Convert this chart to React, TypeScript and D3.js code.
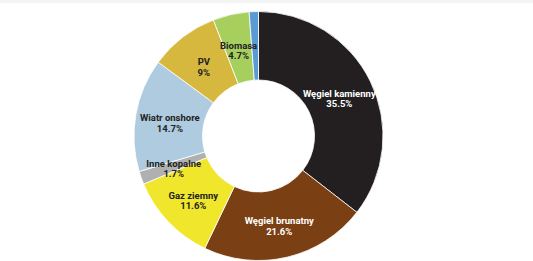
import React from "react";
import * as d3 from "d3";

const categories = ["Węgiel kamienny", "Węgiel brunatny", "Gaz ziemny", "Inne kopalne", "Wiatr onshore", "PV", "Biomasa", "Inne OZE"];
const values = [35.5, 21.6, 11.6, 1.7, 14.7, 9, 4.7, 1.2];
const valueLabels = ["35.5%", "21.6%", "11.6%", "1.7%", "14.7%", "9%", "4.7%", ""];
const colors = ["#231f20", "#7a3f12", "#f0e62c", "#b0b0b0", "#aecbe0", "#d6b83e", "#a6cf5e", "#5b9bd5"];
const textColors = ["#ffffff", "#ffffff", "#222222", "#222222", "#222222", "#222222", "#222222", "#222222"];

const W = 533;
const H = 261;
const cx = 258.5;
const cy = 136;
const outerR = 124.5;
const innerR = 56;
const labelR = 90;

export default function App() {
  const data = categories.map((c, i) => ({ name: c, value: values[i], label: valueLabels[i], color: colors[i], tc: textColors[i] }));
  const pie = d3.pie<any>().value((d) => d.value).sort(null);
  const arcs = pie(data);
  const arc = d3.arc<any>().innerRadius(innerR).outerRadius(outerR);
  const labelArc = d3.arc<any>().innerRadius(labelR).outerRadius(labelR);
  const textStyle = { fontFamily: "Roboto, 'Liberation Sans', sans-serif", fontWeight: 700, fontSize: 9.5 };

  return (
    <svg width={W} height={H} style={{ position: "absolute", left: 0, top: 0, background: "#fff" }}>
      <rect x={0} y={0} width={W} height={3} fill="#f4f4f4" />
      <g transform={`translate(${cx},${cy})`}>
        {arcs.map((a, i) => (
          <path key={i} d={arc(a) as string} fill={a.data.color} stroke="#ffffff" strokeWidth={0.8} />
        ))}
        {arcs.map((a, i) => {
          if (!a.data.label) return null;
          const [x, y] = labelArc.centroid(a);
          return (
            <g key={"t" + i}>
              <text x={x} y={y + 0.5} textAnchor="middle" fill={a.data.tc} style={textStyle}>{a.data.name}</text>
              <text x={x} y={y + 11} textAnchor="middle" fill={a.data.tc} style={textStyle}>{a.data.label}</text>
            </g>
          );
        })}
      </g>
    </svg>
  );
}
